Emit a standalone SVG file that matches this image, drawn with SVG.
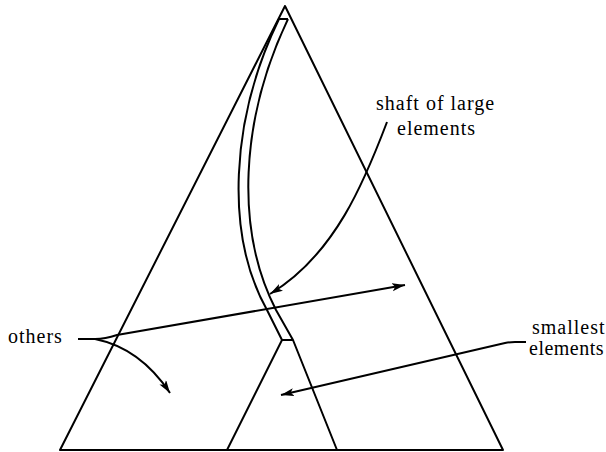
<svg xmlns="http://www.w3.org/2000/svg" width="606" height="452" viewBox="0 0 606 452">
<defs>
<marker id="ah" markerUnits="userSpaceOnUse" markerWidth="14" markerHeight="10" refX="13" refY="4" orient="auto">
<path d="M0,0 L13,4 L0,8 L3,4 z" fill="#000"/>
</marker>
<style>
.ln{fill:none;stroke:#000;stroke-width:2;stroke-linejoin:round}
.cn{fill:none;stroke:#000;stroke-width:2}
.lb{font-family:"Liberation Serif","Times New Roman",serif;font-size:20px;letter-spacing:1px;fill:#000}
</style>
</defs>
<rect width="606" height="452" fill="#fff"/>
<g id="triangle">
<path class="ln" d="M285,6 L60,450 L503,450 Z"/>
</g>
<g id="shaft">
<path class="ln" d="M279,19 L288,19"/>
<path class="ln" d="M279,19 C230,120 225,235 267,310 L282,340"/>
<path class="ln" d="M288,19 C240,120 235,230 276,310 L293,340 L337,450"/>
<path class="ln" d="M282,340 L293,340"/>
<path class="ln" d="M282,340 L227,450"/>
</g>
<g id="label-shaft">
<text class="lb" x="376" y="110">shaft of large</text>
<text class="lb" x="397" y="135">elements</text>
</g>
<g id="label-others">
<text class="lb" x="8" y="343">others</text>
</g>
<g id="label-smallest">
<text class="lb" x="532" y="334">smallest</text>
<text class="lb" x="529" y="355" style="letter-spacing:0.5px">elements</text>
</g>
<g id="connectors">
<path class="cn" d="M387,122 C365,180 335,255 270,294" marker-end="url(#ah)"/>
<path class="cn" d="M78,339 L95,339 Q105,339 117,335 L405,285" marker-end="url(#ah)"/>
<path class="cn" d="M95,339 Q140,348 170,393" marker-end="url(#ah)"/>
<path class="cn" d="M526,342 L515,342 Q510,342 505,343 L281,395" marker-end="url(#ah)"/>
</g>
</svg>
